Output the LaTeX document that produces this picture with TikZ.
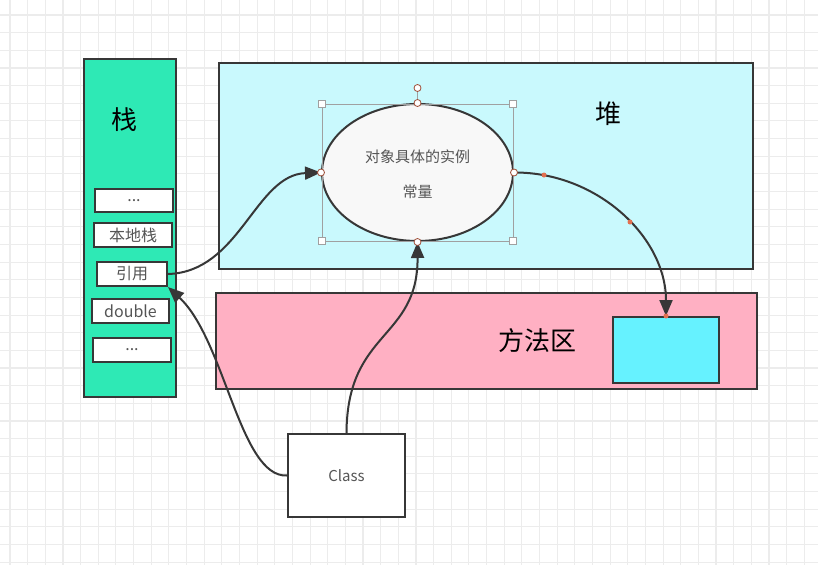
\documentclass[tikz,border=0pt]{standalone}
\usepackage{fontspec}
\setmainfont{Noto Sans CJK SC}
\usetikzlibrary{arrows.meta,shapes.geometric}
\definecolor{gridc}{RGB}{236,236,236}
\definecolor{edge}{RGB}{55,55,55}
\definecolor{stackc}{RGB}{46,233,181}
\definecolor{heapc}{RGB}{201,249,253}
\definecolor{methodc}{RGB}{255,176,195}
\definecolor{smallc}{RGB}{102,242,255}
\definecolor{ellc}{RGB}{248,248,248}
\definecolor{txtc}{RGB}{85,85,85}
\definecolor{selc}{RGB}{160,160,160}
\definecolor{dotc}{RGB}{226,112,80}
\tikzset{
  area/.style={draw=edge, line width=2pt, inner sep=0pt},
  slot/.style={draw=edge, line width=2pt, fill=white, inner sep=0pt, text=txtc, font=\fontsize{16}{16}\selectfont},
  title/.style={font=\fontsize{26}{26}\selectfont, text=black},
  conn/.style={draw=edge, line width=2pt, -{Triangle[length=16pt,width=13pt]}},
  handle/.style={draw=selc, fill=white, line width=0.8pt, minimum size=7pt, inner sep=0pt},
  cpoint/.style={circle, draw=dotc!70!black, fill=white, line width=0.8pt, minimum size=7pt, inner sep=0pt},
  odot/.style={circle, fill=dotc, minimum size=5pt, inner sep=0pt}
}
\begin{document}
\begin{tikzpicture}[x=1pt,y=-1pt]
\useasboundingbox (0,0) rectangle (818,565);
\fill[white] (0,0) rectangle (818,565);
% grid
\foreach \i in {0,...,46} \draw[gridc, line width=1.1pt] ({10+\i*17.65},0) -- ({10+\i*17.65},565);
\foreach \j in {0,...,31} \draw[gridc, line width=1.1pt] (0,{15+\j*17.65}) -- (818,{15+\j*17.65});

% areas
\node[area, fill=stackc, minimum width=92pt, minimum height=338pt] (stack) at (130,228) {};
\node[title] (stackt) at (124,120) {栈};
\node[area, fill=heapc, minimum width=534pt, minimum height=206pt] (heap) at (486,166) {};
\node[title] (heapt) at (608,114) {堆};
\node[area, fill=methodc, minimum width=541pt, minimum height=96pt] (method) at (486.5,341) {};
\node[title] (methodt) at (537,341) {方法区};
\node[area, fill=smallc, minimum width=106pt, minimum height=66pt] (mbox) at (666,350) {};

% stack slots
\node[slot, minimum width=78pt, minimum height=23pt] (s1) at (134,200.5) {...};
\node[slot, minimum width=78pt, minimum height=24pt] (s2) at (133,235) {本地栈};
\node[slot, minimum width=70pt, minimum height=24pt] (ref) at (132,274) {引用};
\node[slot, minimum width=77pt, minimum height=24pt] (s4) at (130.5,311) {double};
\node[slot, minimum width=78pt, minimum height=24pt] (s5) at (132,350) {...};

% class
\node[area, fill=white, minimum width=117pt, minimum height=83pt, text=txtc, font=\fontsize{15}{15}\selectfont] (cls) at (346.5,475.5) {Class};

% ellipse
\node[ellipse, draw=edge, line width=2pt, fill=ellc, minimum width=191pt, minimum height=137pt, inner sep=0pt] (obj) at (417.5,172.5) {};
\node[text=txtc, font=\fontsize{15}{15}\selectfont] (objt1) at (417.5,157) {对象具体的实例};
\node[text=txtc, font=\fontsize{15}{15}\selectfont] (objt2) at (417.5,192) {常量};

% selection frame
\draw[selc, line width=0.8pt] (322,104) rectangle (513,241);
\draw[selc, line width=0.8pt] (417.5,92) -- (417.5,104);
\node[handle] (h1) at (322,104) {};
\node[handle] (h2) at (513,104) {};
\node[handle] (h3) at (322,241) {};
\node[handle] (h4) at (513,241) {};

% connectors
\draw[conn] (ref.east) .. controls (240,272) and (255,175) .. (obj.west);
\draw[conn] (cls.west) .. controls (240,478) and (225,340) .. (ref.south east);
\draw[conn] (cls.north) .. controls (347,330) and (418,340) .. (obj.south);
\draw[conn] (obj.east) .. controls (597,172) and (666,237) .. (mbox.north);

% connection points
\node[cpoint] (c1) at (obj.north) {};
\node[cpoint] (c2) at (obj.east) {};
\node[cpoint] (c3) at (obj.west) {};
\node[cpoint] (c4) at (obj.south) {};
\node[cpoint] (rot) at (417.5,88) {};
\node[odot] (d1) at (544,175) {};
\node[odot] (d2) at (630,222) {};
\node[odot] (d3) at (mbox.north) {};
\end{tikzpicture}
\end{document}
